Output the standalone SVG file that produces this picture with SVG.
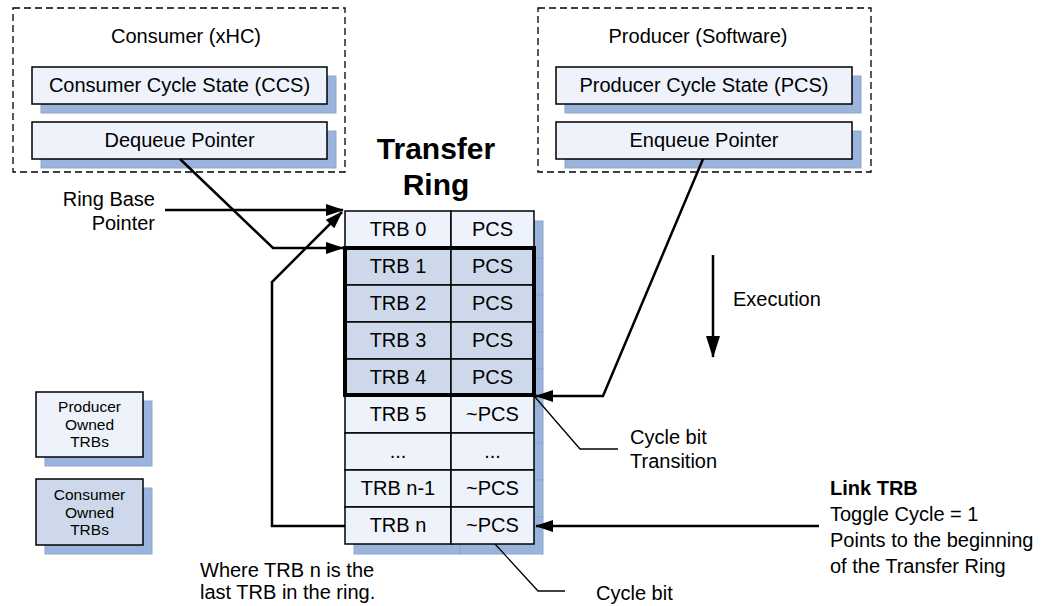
<svg xmlns="http://www.w3.org/2000/svg" width="1044" height="606" viewBox="0 0 1044 606">
<defs>
<style>
text{font-family:"Liberation Sans",Arial,sans-serif;font-size:20px;fill:#000}
.c{text-anchor:middle}
.e{text-anchor:end}
.sm{font-size:15.5px}
.b{font-weight:bold}
.dash{fill:#fff;stroke:#000;stroke-width:1.3;stroke-dasharray:7,4}
.box{fill:#EEF2FB;stroke:#000;stroke-width:1.5}
.own{fill:#CDD9EA;stroke:#000;stroke-width:1.5}
.sh{fill:#9BB4DB;stroke:#8BA7D3;stroke-width:1}
.ln{fill:none;stroke:#000;stroke-width:2.5}
.thin{fill:none;stroke:#000;stroke-width:1.3}
</style>
<marker id="ah" viewBox="0 0 18 12" refX="17" refY="6" markerWidth="18" markerHeight="12" markerUnits="userSpaceOnUse" orient="auto"><path d="M0,0 L18,6 L0,12 z" fill="#000"/></marker>
<marker id="ahb" viewBox="0 0 22 14" refX="21" refY="7" markerWidth="22" markerHeight="14" markerUnits="userSpaceOnUse" orient="auto"><path d="M0,0 L22,7 L0,14 z" fill="#000"/></marker>
</defs>
<rect width="1044" height="606" fill="#fff"/>

<g id="consumer">
<rect class="dash" x="13" y="8" width="332" height="164"/>
<text class="c" x="186" y="43">Consumer (xHC)</text>
<rect class="sh" x="41" y="76" width="295" height="37"/>
<rect class="box" x="32" y="67" width="295" height="37"/>
<text class="c" x="179.5" y="92">Consumer Cycle State (CCS)</text>
<rect class="sh" x="41" y="131" width="295" height="37"/>
<rect class="box" x="32" y="122" width="295" height="37"/>
<text class="c" x="179.5" y="147">Dequeue Pointer</text>
</g>

<g id="producer">
<rect class="dash" x="538" y="8" width="333" height="164"/>
<text class="c" x="698" y="43">Producer (Software)</text>
<rect class="sh" x="565" y="76" width="296" height="37"/>
<rect class="box" x="556" y="67" width="296" height="37"/>
<text class="c" x="704" y="92">Producer Cycle State (PCS)</text>
<rect class="sh" x="565" y="131" width="296" height="37"/>
<rect class="box" x="556" y="122" width="296" height="37"/>
<text class="c" x="704" y="147">Enqueue Pointer</text>
</g>

<g id="title">
<text class="c b" x="436" y="159" style="font-size:30px">Transfer</text>
<text class="c b" x="436" y="195" style="font-size:30px">Ring</text>
</g>

<g id="ring">
<g id="ring-shadow">
<rect class="sh" x="354" y="221" width="106" height="37"/><rect class="sh" x="460" y="221" width="83" height="37"/>
<rect class="sh" x="354" y="258" width="106" height="37"/><rect class="sh" x="460" y="258" width="83" height="37"/>
<rect class="sh" x="354" y="295" width="106" height="37"/><rect class="sh" x="460" y="295" width="83" height="37"/>
<rect class="sh" x="354" y="332" width="106" height="37"/><rect class="sh" x="460" y="332" width="83" height="37"/>
<rect class="sh" x="354" y="369" width="106" height="37"/><rect class="sh" x="460" y="369" width="83" height="37"/>
<rect class="sh" x="354" y="406" width="106" height="37"/><rect class="sh" x="460" y="406" width="83" height="37"/>
<rect class="sh" x="354" y="443" width="106" height="37"/><rect class="sh" x="460" y="443" width="83" height="37"/>
<rect class="sh" x="354" y="480" width="106" height="37"/><rect class="sh" x="460" y="480" width="83" height="37"/>
<rect class="sh" x="354" y="517" width="106" height="37"/><rect class="sh" x="460" y="517" width="83" height="37"/>
</g>
<g id="trb0"><rect class="box" x="345" y="211" width="106" height="37"/><rect class="box" x="451" y="211" width="83" height="37"/>
<text class="c" x="398" y="236">TRB 0</text><text class="c" x="492.5" y="236">PCS</text></g>
<g id="trb1"><rect class="own" x="345" y="248" width="106" height="37"/><rect class="own" x="451" y="248" width="83" height="37"/>
<text class="c" x="398" y="273">TRB 1</text><text class="c" x="492.5" y="273">PCS</text></g>
<g id="trb2"><rect class="own" x="345" y="285" width="106" height="37"/><rect class="own" x="451" y="285" width="83" height="37"/>
<text class="c" x="398" y="310">TRB 2</text><text class="c" x="492.5" y="310">PCS</text></g>
<g id="trb3"><rect class="own" x="345" y="322" width="106" height="37"/><rect class="own" x="451" y="322" width="83" height="37"/>
<text class="c" x="398" y="347">TRB 3</text><text class="c" x="492.5" y="347">PCS</text></g>
<g id="trb4"><rect class="own" x="345" y="359" width="106" height="37"/><rect class="own" x="451" y="359" width="83" height="37"/>
<text class="c" x="398" y="384">TRB 4</text><text class="c" x="492.5" y="384">PCS</text></g>
<g id="trb5"><rect class="box" x="345" y="396" width="106" height="37"/><rect class="box" x="451" y="396" width="83" height="37"/>
<text class="c" x="398" y="421">TRB 5</text><text class="c" x="492.5" y="421">~PCS</text></g>
<g id="trbdots"><rect class="box" x="345" y="433" width="106" height="37"/><rect class="box" x="451" y="433" width="83" height="37"/>
<text class="c" x="398" y="458">...</text><text class="c" x="492.5" y="458">...</text></g>
<g id="trbn1"><rect class="box" x="345" y="470" width="106" height="37"/><rect class="box" x="451" y="470" width="83" height="37"/>
<text class="c" x="398" y="495">TRB n-1</text><text class="c" x="492.5" y="495">~PCS</text></g>
<g id="trbn"><rect class="box" x="345" y="507" width="106" height="37"/><rect class="box" x="451" y="507" width="83" height="37"/>
<text class="c" x="398" y="532">TRB n</text><text class="c" x="492.5" y="532">~PCS</text></g>
<rect x="345" y="248" width="189" height="147" fill="none" stroke="#000" stroke-width="4"/>
</g>

<g id="legend">
<g id="legend-producer">
<rect class="sh" x="45" y="401" width="107" height="65"/>
<rect class="box" x="36" y="392" width="107" height="65"/>
<text class="c sm" x="89.5" y="412">Producer</text>
<text class="c sm" x="89.5" y="430">Owned</text>
<text class="c sm" x="89.5" y="447">TRBs</text>
</g>
<g id="legend-consumer">
<rect class="sh" x="45" y="488" width="107" height="66"/>
<rect class="own" x="36" y="479" width="107" height="66"/>
<text class="c sm" x="89.5" y="500">Consumer</text>
<text class="c sm" x="89.5" y="518">Owned</text>
<text class="c sm" x="89.5" y="535">TRBs</text>
</g>
</g>

<g id="connectors">
<polyline class="ln" points="165,210 343,210" marker-end="url(#ah)"/>
<polyline class="ln" points="180,159 273,248 343,248" marker-end="url(#ah)"/>
<polyline class="ln" points="345,526 272,526 272,282 342,212" marker-end="url(#ah)"/>
<polyline class="ln" points="703,159 603,396 536,396" marker-end="url(#ah)"/>
<polyline class="ln" points="819,526 536,526" marker-end="url(#ah)"/>
<polyline class="ln" points="713,255 713,357" marker-end="url(#ahb)"/>
<polyline class="thin" points="535,397 580,449 618,449"/>
<polyline class="thin" points="495,544 538,591 565,591"/>
</g>

<g id="labels">
<text class="e" x="155" y="206">Ring Base</text>
<text class="e" x="155" y="230">Pointer</text>
<text x="733" y="306">Execution</text>
<text x="630" y="444">Cycle bit</text>
<text x="630" y="468">Transition</text>
<text x="596" y="600">Cycle bit</text>
<text x="200" y="577">Where TRB n is the</text>
<text x="200" y="599">last TRB in the ring.</text>
<text class="b" x="830" y="495">Link TRB</text>
<text x="830" y="521">Toggle Cycle = 1</text>
<text x="830" y="547">Points to the beginning</text>
<text x="830" y="573">of the Transfer Ring</text>
</g>
</svg>
